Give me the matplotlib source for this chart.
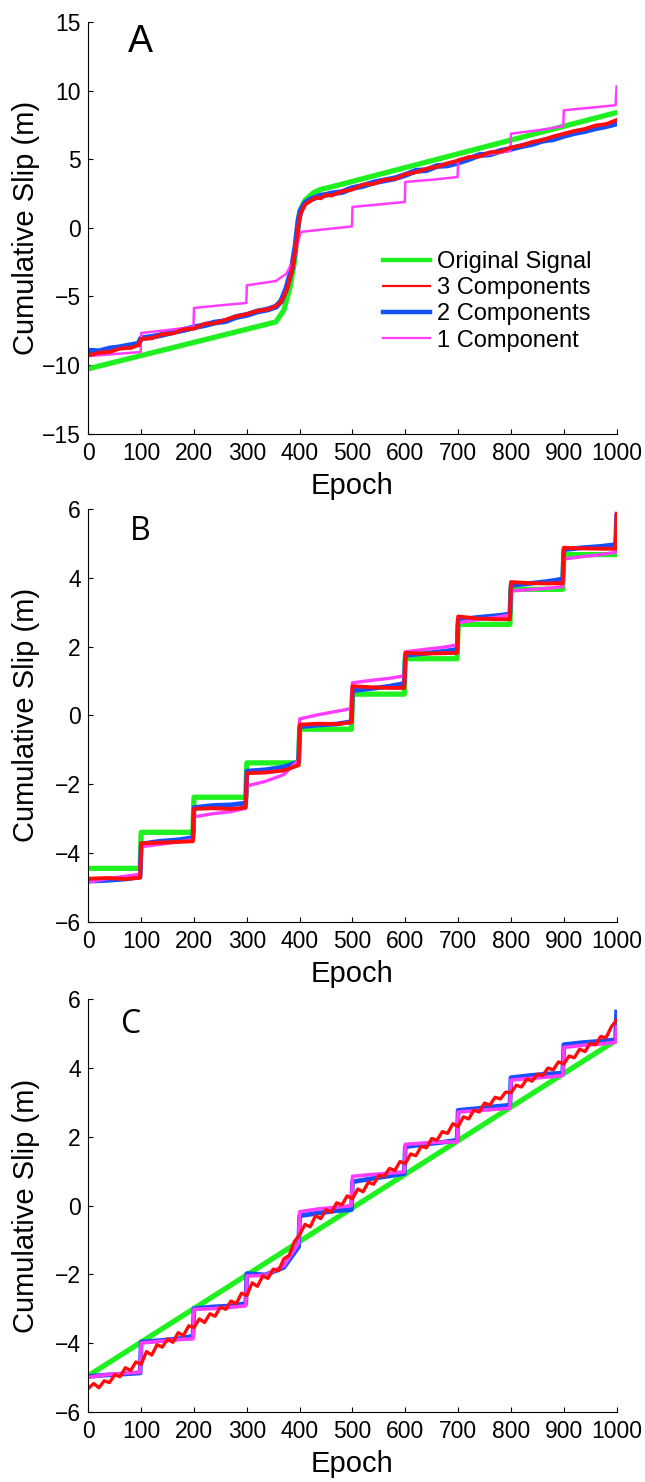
import numpy as np
import matplotlib
matplotlib.use('Agg')
from matplotlib import pyplot as plt
from matplotlib.lines import Line2D

plt.rcParams['font.family'] = ['Liberation Sans', 'DejaVu Sans']

GREEN = '#1ff01f'
RED = '#ff0d0d'
BLUE = '#1450ff'
MAGENTA = '#ff3cff'

# ---------------- panel A ----------------
ep_green_a = [0, 355, 370, 382, 390, 395, 400, 410, 426, 440, 457, 1000]
val_green_a = [-10.27, -6.86, -6.0, -4.3, -2.5, -0.5, 1.2, 2.0, 2.55, 2.8, 2.95, 8.4]

ep_noisy_a = [0, 20, 40, 60, 80, 95, 100, 120, 140, 160, 180, 200, 220, 240, 260, 280,
              300, 320, 340, 355, 365, 375, 385, 392, 398, 402, 410, 420, 430, 440, 450,
              460, 480, 500, 520, 540, 560, 580, 600, 620, 640, 660, 680, 700, 720, 740,
              760, 780, 800, 820, 840, 860, 880, 900, 920, 940, 960, 980, 1000]
val_red_a = [-9.30, -9.10, -9.05, -8.80, -8.75, -8.55, -8.10, -8.05, -7.75, -7.70, -7.40,
             -7.35, -7.00, -6.95, -6.70, -6.45, -6.30, -6.05, -5.95, -5.70, -5.40, -4.60,
             -3.20, -1.60, 0.30, 1.05, 1.70, 1.95, 2.20, 2.15, 2.40, 2.35, 2.65, 2.80,
             3.15, 3.20, 3.50, 3.55, 3.90, 4.05, 4.30, 4.45, 4.70, 4.90, 5.15, 5.20,
             5.50, 5.55, 5.85, 6.00, 6.25, 6.40, 6.65, 6.85, 7.05, 7.20, 7.45, 7.55, 7.85]
val_blue_a = [-8.95, -9.00, -8.80, -8.70, -8.55, -8.45, -8.05, -7.95, -7.80, -7.60, -7.45,
              -7.25, -7.10, -6.90, -6.80, -6.50, -6.35, -6.10, -5.95, -5.75, -5.35, -4.40,
              -3.00, -1.40, 0.60, 1.25, 1.80, 2.05, 2.20, 2.35, 2.40, 2.50, 2.60, 2.90,
              3.05, 3.30, 3.45, 3.60, 3.85, 4.15, 4.20, 4.50, 4.55, 4.75, 5.00, 5.30,
              5.35, 5.60, 5.75, 5.95, 6.10, 6.35, 6.45, 6.70, 6.90, 7.05, 7.25, 7.40, 7.60]

ep_mag_a = [0, 50, 99, 100, 150, 199, 200, 250, 299, 300, 355, 375, 390, 397, 402, 450,
            499, 500, 550, 599, 600, 650, 699, 700, 750, 799, 800, 850, 899, 900, 950, 998, 1000]
val_mag_a = [-9.35, -9.2, -9.05, -7.67, -7.45, -7.23, -5.84, -5.65, -5.48, -4.19, -3.88,
             -3.34, -2.2, -1.0, -0.3, -0.1, 0.1, 1.52, 1.7, 1.88, 3.34, 3.5, 3.7, 5.0,
             5.3, 5.6, 6.86, 7.1, 7.4, 8.56, 8.75, 8.93, 10.3]

# ---------------- panel B (values per 100-epoch segment) ----------------
seg_offsets = [0, 35, 70, 98]
green_b = [-4.45, -3.4, -2.38, -1.38, -0.4, 0.62, 1.65, 2.65, 3.67, 4.68]
red_b = [[-4.75, -4.73, -4.76, -4.72], [-3.72, -3.70, -3.68, -3.66], [-2.72, -2.70, -2.72, -2.68],
         [-1.68, -1.66, -1.60, -1.45], [-0.27, -0.24, -0.25, -0.20], [0.85, 0.82, 0.80, 0.80],
         [1.82, 1.80, 1.81, 1.82], [2.88, 2.82, 2.80, 2.80], [3.88, 3.85, 3.84, 3.85],
         [4.88, 4.86, 4.85, 4.85]]
blue_b = [[-4.82, -4.80, -4.76, -4.70], [-3.74, -3.66, -3.62, -3.55], [-2.68, -2.62, -2.60, -2.55],
          [-1.62, -1.58, -1.50, -1.35], [-0.33, -0.28, -0.25, -0.18], [0.72, 0.78, 0.85, 0.93],
          [1.75, 1.80, 1.86, 1.92], [2.78, 2.85, 2.90, 2.95], [3.78, 3.84, 3.90, 3.97],
          [4.82, 4.88, 4.92, 4.97]]
mag_b = [[-4.85, -4.75, -4.68, -4.62], [-3.82, -3.75, -3.68, -3.62], [-2.95, -2.86, -2.80, -2.70],
         [-2.05, -1.92, -1.72, -1.30], [-0.10, 0.02, 0.12, 0.20], [0.95, 1.02, 1.08, 1.15],
         [1.85, 1.92, 1.98, 2.05], [2.70, 2.78, 2.85, 2.92], [3.62, 3.66, 3.70, 3.75],
         [4.55, 4.62, 4.68, 4.75]]
end_b = {'green': 4.68, 'red': 5.87, 'blue': 5.80, 'mag': 4.78}

# ---------------- panel C ----------------
green_c_ep = [0, 1000]
green_c_val = [-4.95, 4.82]
blue_c = [[-4.97, -4.93, -4.90, -4.87], [-3.97, -3.93, -3.88, -3.80], [-3.00, -2.95, -2.92, -2.85],
          [-1.98, -2.02, -1.80, -1.20], [-0.30, -0.22, -0.15, -0.12], [0.69, 0.78, 0.86, 0.93],
          [1.71, 1.78, 1.84, 1.90], [2.77, 2.82, 2.88, 2.92], [3.72, 3.78, 3.83, 3.85],
          [4.68, 4.74, 4.78, 4.82]]
mag_c = [[-5.00, -4.92, -4.88, -4.85], [-4.00, -3.95, -3.90, -3.88], [-3.02, -3.00, -2.96, -2.92],
         [-2.05, -2.03, -1.75, -1.10], [-0.18, -0.10, -0.05, 0.00], [0.85, 0.90, 0.94, 0.98],
         [1.78, 1.82, 1.85, 1.85], [2.72, 2.76, 2.80, 2.83], [3.65, 3.70, 3.74, 3.78],
         [4.60, 4.66, 4.70, 4.75]]
end_c = {'blue': 5.63, 'mag': 5.2}
red_c = [-5.32, -5.18, -5.30, -5.10, -5.15, -4.92, -4.98, -4.72, -4.80, -4.55,
         -4.62, -4.25, -4.35, -4.05, -4.12, -3.88, -3.98, -3.70, -3.78, -3.50,
         -3.55, -3.30, -3.40, -3.15, -3.22, -2.95, -3.02, -2.78, -2.85, -2.55,
         -2.62, -2.25, -2.35, -2.05, -2.12, -1.85, -1.90, -1.55, -1.45, -1.05,
         -0.85, -0.55, -0.62, -0.30, -0.38, -0.12, -0.20, 0.08, 0.02, 0.28,
         0.20, 0.48, 0.40, 0.68, 0.62, 0.88, 0.85, 1.08, 1.02, 1.28,
         1.22, 1.50, 1.45, 1.72, 1.68, 1.95, 1.90, 2.15, 2.10, 2.38,
         2.30, 2.58, 2.52, 2.78, 2.72, 2.98, 2.92, 3.15, 3.10, 3.30,
         3.28, 3.50, 3.45, 3.68, 3.62, 3.82, 3.78, 4.00, 3.95, 4.18,
         4.12, 4.35, 4.30, 4.55, 4.48, 4.72, 4.68, 4.92, 4.88, 5.20, 5.40]
red_c_ep = np.arange(0, 1001, 10)


def stepped(segs, end_val):
    x, y = [], []
    for k, seg in enumerate(segs):
        x += [100 * k + o for o in seg_offsets]
        y += list(seg)
    x.append(1000)
    y.append(end_val)
    return x, y


def style(ax, ylim, yticks):
    ax.set_xlim(0, 1000)
    ax.set_ylim(*ylim)
    ax.set_xticks(range(0, 1001, 100))
    ax.set_yticks(yticks)
    ax.spines['top'].set_visible(False)
    ax.spines['right'].set_visible(False)
    for s in ('left', 'bottom'):
        ax.spines[s].set_linewidth(0.8)
    ax.tick_params(direction='in', length=3.6, width=0.8, labelsize=16.5)
    ax.tick_params(axis='x', pad=6.0)
    ax.tick_params(axis='y', pad=5.5)
    ax.set_xlabel('Epoch', fontsize=21)
    ax.set_ylabel('Cumulative Slip (m)', fontsize=21)
    ax.xaxis.set_label_coords(0.5, -0.093)
    ax.yaxis.set_label_coords(-0.091, 0.5)


fig = plt.figure(figsize=(6.45, 14.82), dpi=100)
L, W = 0.137, 0.819

# A
axA = fig.add_axes([L, 0.7074, W, 0.2778])
axA.plot(ep_green_a, val_green_a, color=GREEN, lw=3.8)
axA.plot(ep_noisy_a, val_blue_a, color=BLUE, lw=4.2)
axA.plot(ep_mag_a, val_mag_a, color=MAGENTA, lw=1.8)
axA.plot(ep_noisy_a, val_red_a, color=RED, lw=2.8)
style(axA, (-15, 15), range(-15, 16, 5))
axA.text(0.075, 0.927, 'A', transform=axA.transAxes, fontsize=27, ha='left', va='baseline')
handles = [Line2D([], [], color=GREEN, lw=3.2), Line2D([], [], color=RED, lw=1.6),
           Line2D([], [], color=BLUE, lw=3.2), Line2D([], [], color=MAGENTA, lw=1.6)]
labels = ['Original Signal', '3 Components', '2 Components', '1 Component']
axA.legend(handles, labels, loc='upper left', bbox_to_anchor=(0.558, 0.444),
           frameon=False, fontsize=17, borderpad=0, borderaxespad=0,
           handlelength=2.0, handletextpad=0.3, labelspacing=0.18)

# B
axB = fig.add_axes([L, 0.3781, W, 0.2783])
gx, gy = stepped([[v] * 4 for v in green_b], end_b['green'])
axB.plot(gx, gy, color=GREEN, lw=3.8)
bx, by = stepped(blue_b, end_b['blue'])
axB.plot(bx, by, color=BLUE, lw=3.4)
mx, my = stepped(mag_b, end_b['mag'])
axB.plot(mx, my, color=MAGENTA, lw=2.4)
rx, ry = stepped(red_b, end_b['red'])
axB.plot(rx, ry, color=RED, lw=2.8)
style(axB, (-6, 6), range(-6, 7, 2))
axB.text(0.079, 0.9256, 'B', transform=axB.transAxes, fontsize=23, family='Open Sans',
         ha='left', va='baseline')

# C
axC = fig.add_axes([L, 0.0474, W, 0.2783])
axC.plot(green_c_ep, green_c_val, color=GREEN, lw=3.8)
bx, by = stepped(blue_c, end_c['blue'])
axC.plot(bx, by, color=BLUE, lw=3.4)
mx, my = stepped(mag_c, end_c['mag'])
axC.plot(mx, my, color=MAGENTA, lw=2.6)
axC.plot(red_c_ep, red_c, color=RED, lw=2.4)
style(axC, (-6, 6), range(-6, 7, 2))
axC.text(0.062, 0.918, 'C', transform=axC.transAxes, fontsize=23, family='Open Sans',
         ha='left', va='baseline')

fig.savefig('out.png', dpi=100)
